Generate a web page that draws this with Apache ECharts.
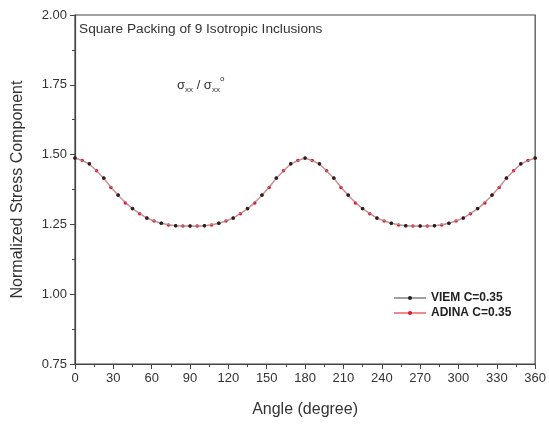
<!DOCTYPE html>
<html>
<head>
<meta charset="utf-8">
<script src="https://cdn.jsdelivr.net/npm/echarts@6/dist/echarts.min.js"></script>
<style>
  html, body { margin: 0; padding: 0; background: #fff; }
  #chart { width: 549px; height: 425px; }
</style>
</head>
<body>
<div id="chart"></div>
<script>
// angles in degrees, 64 nodes round the inclusion
var angles = [
  0, 5.625, 11.25, 16.875, 22.5, 28.125, 33.75, 39.375, 45, 50.625, 56.25, 61.875, 67.5, 73.125, 78.75, 84.375,
  90, 95.625, 101.25, 106.875, 112.5, 118.125, 123.75, 129.375, 135, 140.625, 146.25, 151.875, 157.5, 163.125, 168.75, 174.375,
  180, 185.625, 191.25, 196.875, 202.5, 208.125, 213.75, 219.375, 225, 230.625, 236.25, 241.875, 247.5, 253.125, 258.75, 264.375,
  270, 275.625, 281.25, 286.875, 292.5, 298.125, 303.75, 309.375, 315, 320.625, 326.25, 331.875, 337.5, 343.125, 348.75, 354.375,
  360
];
var adina = [
  1.487, 1.479, 1.466, 1.442, 1.415, 1.382, 1.354, 1.327, 1.306, 1.288, 1.272, 1.262, 1.254, 1.248, 1.245, 1.244,
  1.244, 1.244, 1.245, 1.248, 1.254, 1.262, 1.272, 1.288, 1.306, 1.327, 1.354, 1.382, 1.415, 1.442, 1.466, 1.479,
  1.487, 1.479, 1.466, 1.442, 1.415, 1.382, 1.354, 1.327, 1.306, 1.288, 1.272, 1.262, 1.254, 1.248, 1.245, 1.244,
  1.244, 1.244, 1.245, 1.248, 1.254, 1.262, 1.272, 1.288, 1.306, 1.327, 1.354, 1.382, 1.415, 1.442, 1.466, 1.479,
  1.487
];
// VIEM points, every second node
var viemAngles = [
  0, 11.25, 22.5, 33.75, 45, 56.25, 67.5, 78.75, 90, 101.25, 112.5, 123.75, 135, 146.25, 157.5, 168.75,
  180, 191.25, 202.5, 213.75, 225, 236.25, 247.5, 258.75, 270, 281.25, 292.5, 303.75, 315, 326.25, 337.5, 348.75,
  360
];
var viem = [
  1.488, 1.467, 1.416, 1.355, 1.307, 1.273, 1.254, 1.245, 1.244, 1.245, 1.254, 1.273, 1.307, 1.355, 1.416, 1.467,
  1.488, 1.467, 1.416, 1.355, 1.307, 1.273, 1.254, 1.245, 1.244, 1.245, 1.254, 1.273, 1.307, 1.355, 1.416, 1.467,
  1.488
];
var xTicks = [0, 30, 60, 90, 120, 150, 180, 210, 240, 270, 300, 330, 360];
var yTicks = [0.75, 1.00, 1.25, 1.50, 1.75, 2.00];

function pairs(xs, ys) {
  return xs.map(function (x, i) { return [x, ys[i]]; });
}

var font = 'Liberation Sans, Arial, sans-serif';
var chart = echarts.init(document.getElementById('chart'), null, { renderer: 'canvas' });

var option = {
  animation: false,
  backgroundColor: '#fff',
  grid: {
    left: 75, right: 12, top: 15, bottom: 61,
    show: true, borderColor: '#444', borderWidth: 1.2
  },
  xAxis: {
    type: 'value',
    min: xTicks[0], max: xTicks[xTicks.length - 1], interval: 30,
    name: 'Angle (degree)', nameLocation: 'middle', nameGap: 38,
    nameTextStyle: { fontFamily: font, fontSize: 16, color: '#333' },
    axisLine: { show: true, lineStyle: { color: '#444', width: 1.2 } },
    axisTick: { show: true, length: 5, lineStyle: { color: '#444' } },
    minorTick: { show: true, splitNumber: 2, length: 3, lineStyle: { color: '#444' } },
    splitLine: { show: false },
    axisLabel: { fontFamily: font, fontSize: 13, color: '#333', margin: 8 }
  },
  yAxis: {
    type: 'value',
    min: yTicks[0], max: yTicks[yTicks.length - 1], interval: 0.25,
    name: 'Normalized Stress Component', nameLocation: 'middle', nameGap: 49,
    nameTextStyle: { fontFamily: font, fontSize: 16, color: '#333' },
    axisLine: { show: true, lineStyle: { color: '#444', width: 1.2 } },
    axisTick: { show: true, length: 5, lineStyle: { color: '#444' } },
    minorTick: { show: true, splitNumber: 2, length: 3, lineStyle: { color: '#444' } },
    splitLine: { show: false },
    axisLabel: {
      fontFamily: font, fontSize: 13, color: '#333', margin: 8,
      formatter: function (v) { return v.toFixed(2); }
    }
  },
  legend: {
    orient: 'vertical', left: 388, top: 287,
    itemWidth: 32, itemHeight: 5, itemGap: 3,
    textStyle: { fontFamily: font, fontSize: 12, fontWeight: 'bold', color: '#222' },
    data: ['VIEM C=0.35', 'ADINA C=0.35']
  },
  graphic: [
    {
      type: 'text', left: 79, top: 22,
      style: { text: 'Square Packing of 9 Isotropic Inclusions', fontFamily: font, fontSize: 13.7, fill: '#333' }
    },
    {
      type: 'text', left: 177, top: 75,
      style: {
        text: '{s|σ}{b|xx}{s| / σ}{b|xx}{c|o}',
        fontFamily: font, fill: '#333',
        rich: {
          s: { fontFamily: font, fontSize: 13, fill: '#333', verticalAlign: 'bottom' },
          b: { fontFamily: font, fontSize: 8, fill: '#333', verticalAlign: 'bottom', padding: [0, 0, -2, 0] },
          c: { fontFamily: font, fontSize: 8, fill: '#333', verticalAlign: 'top', padding: [-4, 0, 0, 0] }
        }
      }
    }
  ],
  series: [
    {
      name: 'ADINA C=0.35', type: 'line', z: 2,
      data: pairs(angles, adina),
      symbol: 'circle', symbolSize: 3.5,
      lineStyle: { color: '#f08a8a', width: 1.3 },
      itemStyle: { color: '#e0142c' }
    },
    {
      name: 'VIEM C=0.35', type: 'line', z: 3,
      data: pairs(viemAngles, viem),
      symbol: 'circle', symbolSize: 3.5,
      lineStyle: { color: '#a0a0a0', width: 1 },
      itemStyle: { color: '#222' }
    }
  ]
};

chart.setOption(option);
</script>
</body>
</html>
